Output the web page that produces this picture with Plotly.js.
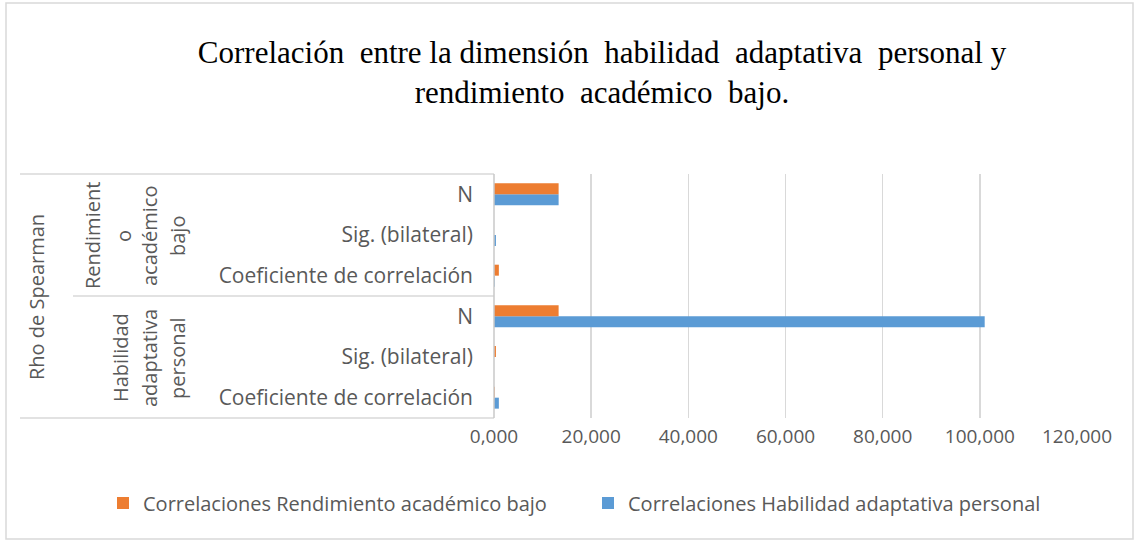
<!DOCTYPE html>
<html>
<head>
<meta charset="utf-8">
<script src="https://cdn.plot.ly/plotly-3.0.1.min.js"></script>
<style>html,body{margin:0;padding:0;background:#fff;}#chart{width:1139px;height:541px;}</style>
</head>
<body>
<div id="chart"></div>
<script>
// ---- data ----
const categories = ['HAP|Coef', 'HAP|Sig', 'HAP|N', 'RAB|Coef', 'RAB|Sig', 'RAB|N'];
const leafLabels = ['Coeficiente de correlación', 'Sig. (bilateral)', 'N',
                    'Coeficiente de correlación', 'Sig. (bilateral)', 'N'];
const groupHabilidad = ['Habilidad', 'adaptativa', 'personal'];
const groupRendimiento = ['Rendimient', 'o', 'académico', 'bajo'];
const outerLabel = 'Rho de Spearman';
const seriesRendimiento = [0.15, 0.40, 13.3, 1.0, 0, 13.3];
const seriesHabilidad = [1.0, 0, 101, 0.15, 0.40, 13.3];
const nameRendimiento = 'Correlaciones Rendimiento académico bajo';
const nameHabilidad = 'Correlaciones Habilidad adaptativa personal';
const xTicks = [0, 20, 40, 60, 80, 100, 120];

// ---- layout helpers (pixel -> paper) ----
const W = 1139, H = 541;
const L = 494, R = 1077, T = 174, B = 418;
const px = x => (x - L) / (R - L);
const py = y => (B - y) / (B - T);

const gray = '#595959';
const lineCol = '#d9d9d9';
const sans = 'Open Sans, sans-serif';

const traces = [
  {type: 'bar', orientation: 'h', name: nameHabilidad, y: categories, x: seriesHabilidad,
   marker: {color: '#5B9BD5'}},
  {type: 'bar', orientation: 'h', name: nameRendimiento, y: categories, x: seriesRendimiento,
   marker: {color: '#ED7D31'}}
];

const annotations = [];
const rot = (t, x, y) => ({text: t, xref: 'paper', yref: 'paper', x: px(x), y: py(y),
  xanchor: 'center', yanchor: 'middle', textangle: -90, showarrow: false,
  font: {family: sans, size: 20, color: gray}});
annotations.push(rot(outerLabel, 36, 297));
const rendX = [92, 123, 149, 177];
groupRendimiento.forEach((t, i) => annotations.push(rot(t, rendX[i], 236)));
const habX = [120, 149, 177];
groupHabilidad.forEach((t, i) => annotations.push(rot(t, habX[i], 358)));

const shapes = [
  {type: 'rect', xref: 'paper', yref: 'paper', x0: px(6), x1: px(1133), y0: py(539), y1: py(3),
   line: {color: lineCol, width: 1.5}},
  {type: 'line', xref: 'paper', yref: 'paper', x0: px(20), x1: px(494), y0: py(174), y1: py(174),
   line: {color: lineCol, width: 1.5}},
  {type: 'line', xref: 'paper', yref: 'paper', x0: px(73), x1: px(494), y0: py(296), y1: py(296),
   line: {color: lineCol, width: 1.5}},
  {type: 'line', xref: 'paper', yref: 'paper', x0: px(20), x1: px(494), y0: py(418), y1: py(418),
   line: {color: lineCol, width: 1.5}},
  {type: 'line', xref: 'paper', yref: 'paper', x0: 0, x1: 0, y0: 0, y1: 1,
   line: {color: '#c8c8c8', width: 1.5}}
];

const layout = {
  width: W, height: H,
  margin: {l: L, r: W - R, t: T, b: H - B, pad: 0},
  paper_bgcolor: '#fff', plot_bgcolor: '#fff',
  separators: ',.',
  barmode: 'group', bargap: 0.46, bargroupgap: 0,
  title: {text: 'Correlación  entre la dimensión  habilidad  adaptativa  personal y<br>rendimiento  académico  bajo.',
    font: {family: 'Liberation Serif, Times New Roman, serif', size: 31, color: '#000'},
    xref: 'container', x: 602 / W, xanchor: 'center', yref: 'container', y: 1 - 63 / H, yanchor: 'top'},
  xaxis: {range: [0, 120], tickvals: xTicks, tickformat: '.3f', showgrid: true, gridcolor: lineCol,
    gridwidth: 1.5, zeroline: false, showline: false, ticks: '', ticklabelstandoff: 5,
    tickfont: {family: sans, size: 19, color: gray}, fixedrange: true},
  yaxis: {type: 'category', categoryorder: 'array', categoryarray: categories,
    tickvals: categories, ticktext: leafLabels, showgrid: false, zeroline: false, showline: false,
    ticks: '', ticklabelstandoff: 20, tickfont: {family: sans, size: 21, color: gray}, fixedrange: true},
  showlegend: true,
  legend: {orientation: 'h', traceorder: 'reversed',
    x: px(103), xanchor: 'left', y: py(503), yanchor: 'middle',
    font: {family: sans, size: 20, color: gray}, itemwidth: 30, entrywidth: 440},
  annotations: annotations,
  shapes: shapes
};

Plotly.newPlot('chart', traces, layout, {displayModeBar: false, staticPlot: true});
</script>
</body>
</html>
